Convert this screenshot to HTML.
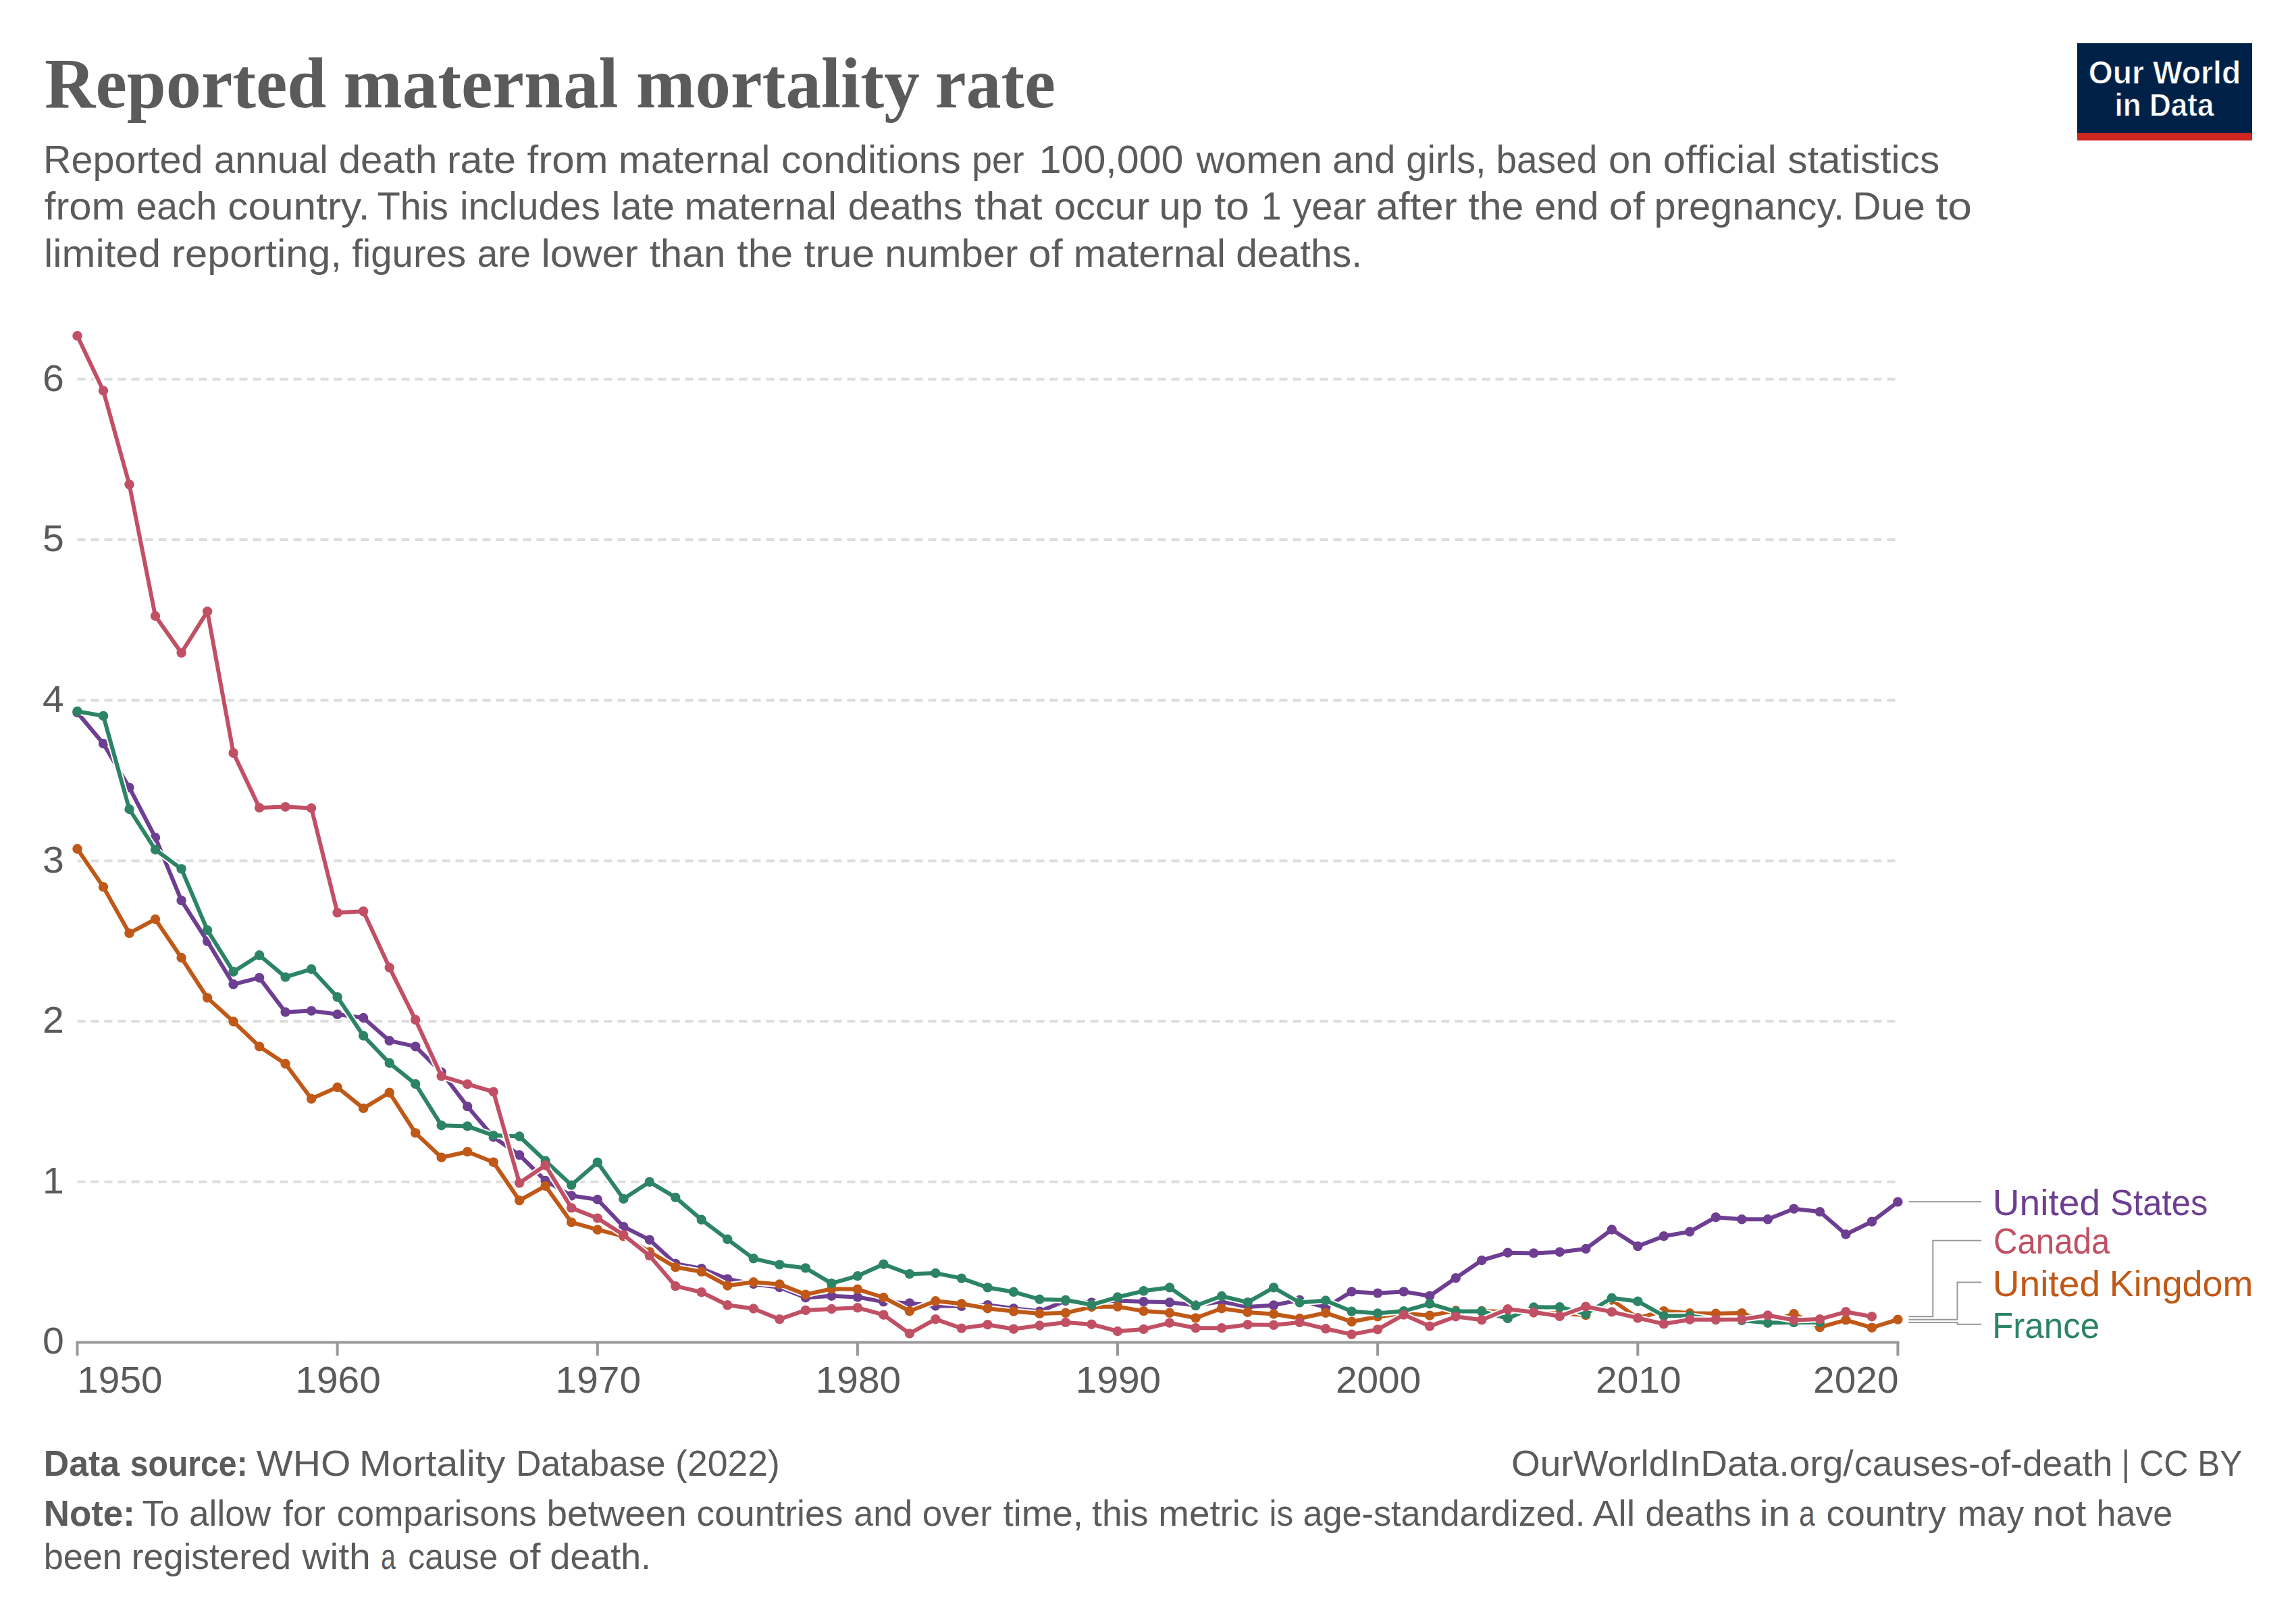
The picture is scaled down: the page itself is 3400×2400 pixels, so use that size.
<!DOCTYPE html>
<html lang="en"><head><meta charset="utf-8"><title>Reported maternal mortality rate</title>
<style>html,body{margin:0;padding:0;background:#fff}body{width:3400px;height:2400px}svg{display:block}text{font-family:"Liberation Sans",Arial,sans-serif;fill:#5b5b5b}.ttl{font-family:"Liberation Serif","Times New Roman",serif;font-weight:bold}.b{font-weight:bold}.lg{stroke:#002147;stroke-width:0.8px}</style></head><body>
<svg width="3400" height="2400" viewBox="0 0 3400 2400">
<rect width="3400" height="2400" fill="#fff"/>
<rect x="3076" y="64" width="259" height="144" fill="#002147"/>
<rect x="3076" y="197" width="259" height="11" fill="#CE261E"/>
<text x="3205.5" y="123.6" font-size="48.5" textLength="225.5" lengthAdjust="spacingAndGlyphs" class="b lg" fill="#fff" style="fill:#fff" text-anchor="middle">Our World</text>
<text x="3205.0" y="171.5" font-size="48.5" textLength="147.0" lengthAdjust="spacingAndGlyphs" class="b lg" fill="#fff" style="fill:#fff" text-anchor="middle">in Data</text>
<line x1="114.5" y1="1749.7" x2="2810.4" y2="1749.7" stroke="#ddd" stroke-width="4" stroke-dasharray="12,8"/>
<text x="94.8" y="1766.9" font-size="55.5" textLength="31.8" lengthAdjust="spacingAndGlyphs" text-anchor="end">1</text>
<line x1="114.5" y1="1512.1" x2="2810.4" y2="1512.1" stroke="#ddd" stroke-width="4" stroke-dasharray="12,8"/>
<text x="94.8" y="1529.3" font-size="55.5" textLength="31.8" lengthAdjust="spacingAndGlyphs" text-anchor="end">2</text>
<line x1="114.5" y1="1274.4" x2="2810.4" y2="1274.4" stroke="#ddd" stroke-width="4" stroke-dasharray="12,8"/>
<text x="94.8" y="1291.6" font-size="55.5" textLength="31.8" lengthAdjust="spacingAndGlyphs" text-anchor="end">3</text>
<line x1="114.5" y1="1036.7" x2="2810.4" y2="1036.7" stroke="#ddd" stroke-width="4" stroke-dasharray="12,8"/>
<text x="94.8" y="1053.9" font-size="55.5" textLength="31.8" lengthAdjust="spacingAndGlyphs" text-anchor="end">4</text>
<line x1="114.5" y1="799.1" x2="2810.4" y2="799.1" stroke="#ddd" stroke-width="4" stroke-dasharray="12,8"/>
<text x="94.8" y="816.3" font-size="55.5" textLength="31.8" lengthAdjust="spacingAndGlyphs" text-anchor="end">5</text>
<line x1="114.5" y1="561.4" x2="2810.4" y2="561.4" stroke="#ddd" stroke-width="4" stroke-dasharray="12,8"/>
<text x="94.8" y="578.6" font-size="55.5" textLength="31.8" lengthAdjust="spacingAndGlyphs" text-anchor="end">6</text>
<text x="94.8" y="2004.4" font-size="55.5" textLength="31.8" lengthAdjust="spacingAndGlyphs" text-anchor="end">0</text>
<g stroke="#999" stroke-width="4" fill="none">
<line x1="112.5" y1="1987.4" x2="2812.4" y2="1987.4"/>
<line x1="114.5" y1="1987.4" x2="114.5" y2="2007.3"/>
<line x1="499.6" y1="1987.4" x2="499.6" y2="2007.3"/>
<line x1="884.8" y1="1987.4" x2="884.8" y2="2007.3"/>
<line x1="1269.9" y1="1987.4" x2="1269.9" y2="2007.3"/>
<line x1="1655.0" y1="1987.4" x2="1655.0" y2="2007.3"/>
<line x1="2040.1" y1="1987.4" x2="2040.1" y2="2007.3"/>
<line x1="2425.3" y1="1987.4" x2="2425.3" y2="2007.3"/>
<line x1="2810.4" y1="1987.4" x2="2810.4" y2="2007.3"/>
</g>
<text x="500.6" y="2062.0" font-size="55.5" textLength="126.4" lengthAdjust="spacingAndGlyphs" text-anchor="middle">1960</text>
<text x="885.8" y="2062.0" font-size="55.5" textLength="126.4" lengthAdjust="spacingAndGlyphs" text-anchor="middle">1970</text>
<text x="1270.9" y="2062.0" font-size="55.5" textLength="126.4" lengthAdjust="spacingAndGlyphs" text-anchor="middle">1980</text>
<text x="1656.0" y="2062.0" font-size="55.5" textLength="126.4" lengthAdjust="spacingAndGlyphs" text-anchor="middle">1990</text>
<text x="2041.1" y="2062.0" font-size="55.5" textLength="126.4" lengthAdjust="spacingAndGlyphs" text-anchor="middle">2000</text>
<text x="2426.3" y="2062.0" font-size="55.5" textLength="126.4" lengthAdjust="spacingAndGlyphs" text-anchor="middle">2010</text>
<text x="114.2" y="2062.0" font-size="55.5" textLength="126.4" lengthAdjust="spacingAndGlyphs">1950</text>
<text x="2811.5" y="2062.0" font-size="55.5" textLength="126.4" lengthAdjust="spacingAndGlyphs" text-anchor="end">2020</text>
<g>
<polyline points="114.5,1055.0 153.0,1101.0 191.5,1166.0 230.0,1240.0 268.6,1333.1 307.1,1393.6 345.6,1457.3 384.1,1447.6 422.6,1498.5 461.1,1496.6 499.6,1501.8 538.1,1507.0 576.7,1540.9 615.2,1549.4 653.7,1587.5 692.2,1638.1 730.7,1683.5 769.2,1710.1 807.7,1748.0 846.2,1770.3 884.8,1776.0 923.3,1816.1 961.8,1835.6 1000.3,1870.9 1038.8,1878.2 1077.3,1893.6 1115.8,1901.0 1154.4,1906.0 1192.9,1921.2 1231.4,1918.7 1269.9,1920.5 1308.4,1927.3 1346.9,1929.4 1385.4,1933.5 1423.9,1933.8 1462.5,1932.2 1501.0,1937.3 1539.5,1941.6 1578.0,1926.0 1616.5,1928.4 1655.0,1925.6 1693.5,1927.2 1732.0,1928.3 1770.6,1932.4 1809.1,1927.0 1847.6,1935.0 1886.1,1932.4 1924.6,1924.8 1963.1,1935.7 2001.6,1912.4 2040.1,1914.6 2078.7,1912.4 2117.2,1918.7 2155.7,1892.2 2194.2,1866.0 2232.7,1854.7 2271.2,1855.4 2309.7,1853.7 2348.3,1849.0 2386.8,1820.5 2425.3,1845.1 2463.8,1830.2 2502.3,1823.6 2540.8,1802.2 2579.3,1805.3 2617.8,1805.3 2656.4,1789.7 2694.9,1794.1 2733.4,1827.5 2771.9,1808.7 2810.4,1779.5" fill="none" stroke="#fff" stroke-width="10" stroke-linejoin="round" stroke-linecap="butt"/>
<polyline points="114.5,1055.0 153.0,1101.0 191.5,1166.0 230.0,1240.0 268.6,1333.1 307.1,1393.6 345.6,1457.3 384.1,1447.6 422.6,1498.5 461.1,1496.6 499.6,1501.8 538.1,1507.0 576.7,1540.9 615.2,1549.4 653.7,1587.5 692.2,1638.1 730.7,1683.5 769.2,1710.1 807.7,1748.0 846.2,1770.3 884.8,1776.0 923.3,1816.1 961.8,1835.6 1000.3,1870.9 1038.8,1878.2 1077.3,1893.6 1115.8,1901.0 1154.4,1906.0 1192.9,1921.2 1231.4,1918.7 1269.9,1920.5 1308.4,1927.3 1346.9,1929.4 1385.4,1933.5 1423.9,1933.8 1462.5,1932.2 1501.0,1937.3 1539.5,1941.6 1578.0,1926.0 1616.5,1928.4 1655.0,1925.6 1693.5,1927.2 1732.0,1928.3 1770.6,1932.4 1809.1,1927.0 1847.6,1935.0 1886.1,1932.4 1924.6,1924.8 1963.1,1935.7 2001.6,1912.4 2040.1,1914.6 2078.7,1912.4 2117.2,1918.7 2155.7,1892.2 2194.2,1866.0 2232.7,1854.7 2271.2,1855.4 2309.7,1853.7 2348.3,1849.0 2386.8,1820.5 2425.3,1845.1 2463.8,1830.2 2502.3,1823.6 2540.8,1802.2 2579.3,1805.3 2617.8,1805.3 2656.4,1789.7 2694.9,1794.1 2733.4,1827.5 2771.9,1808.7 2810.4,1779.5" fill="none" stroke="#6D3E91" stroke-width="6" stroke-linejoin="round" stroke-linecap="butt"/>
<g fill="#6D3E91">
<circle cx="114.5" cy="1055.0" r="7.2"/>
<circle cx="153.0" cy="1101.0" r="7.2"/>
<circle cx="191.5" cy="1166.0" r="7.2"/>
<circle cx="230.0" cy="1240.0" r="7.2"/>
<circle cx="268.6" cy="1333.1" r="7.2"/>
<circle cx="307.1" cy="1393.6" r="7.2"/>
<circle cx="345.6" cy="1457.3" r="7.2"/>
<circle cx="384.1" cy="1447.6" r="7.2"/>
<circle cx="422.6" cy="1498.5" r="7.2"/>
<circle cx="461.1" cy="1496.6" r="7.2"/>
<circle cx="499.6" cy="1501.8" r="7.2"/>
<circle cx="538.1" cy="1507.0" r="7.2"/>
<circle cx="576.7" cy="1540.9" r="7.2"/>
<circle cx="615.2" cy="1549.4" r="7.2"/>
<circle cx="653.7" cy="1587.5" r="7.2"/>
<circle cx="692.2" cy="1638.1" r="7.2"/>
<circle cx="730.7" cy="1683.5" r="7.2"/>
<circle cx="769.2" cy="1710.1" r="7.2"/>
<circle cx="807.7" cy="1748.0" r="7.2"/>
<circle cx="846.2" cy="1770.3" r="7.2"/>
<circle cx="884.8" cy="1776.0" r="7.2"/>
<circle cx="923.3" cy="1816.1" r="7.2"/>
<circle cx="961.8" cy="1835.6" r="7.2"/>
<circle cx="1000.3" cy="1870.9" r="7.2"/>
<circle cx="1038.8" cy="1878.2" r="7.2"/>
<circle cx="1077.3" cy="1893.6" r="7.2"/>
<circle cx="1115.8" cy="1901.0" r="7.2"/>
<circle cx="1154.4" cy="1906.0" r="7.2"/>
<circle cx="1192.9" cy="1921.2" r="7.2"/>
<circle cx="1231.4" cy="1918.7" r="7.2"/>
<circle cx="1269.9" cy="1920.5" r="7.2"/>
<circle cx="1308.4" cy="1927.3" r="7.2"/>
<circle cx="1346.9" cy="1929.4" r="7.2"/>
<circle cx="1385.4" cy="1933.5" r="7.2"/>
<circle cx="1423.9" cy="1933.8" r="7.2"/>
<circle cx="1462.5" cy="1932.2" r="7.2"/>
<circle cx="1501.0" cy="1937.3" r="7.2"/>
<circle cx="1539.5" cy="1941.6" r="7.2"/>
<circle cx="1578.0" cy="1926.0" r="7.2"/>
<circle cx="1616.5" cy="1928.4" r="7.2"/>
<circle cx="1655.0" cy="1925.6" r="7.2"/>
<circle cx="1693.5" cy="1927.2" r="7.2"/>
<circle cx="1732.0" cy="1928.3" r="7.2"/>
<circle cx="1770.6" cy="1932.4" r="7.2"/>
<circle cx="1809.1" cy="1927.0" r="7.2"/>
<circle cx="1847.6" cy="1935.0" r="7.2"/>
<circle cx="1886.1" cy="1932.4" r="7.2"/>
<circle cx="1924.6" cy="1924.8" r="7.2"/>
<circle cx="1963.1" cy="1935.7" r="7.2"/>
<circle cx="2001.6" cy="1912.4" r="7.2"/>
<circle cx="2040.1" cy="1914.6" r="7.2"/>
<circle cx="2078.7" cy="1912.4" r="7.2"/>
<circle cx="2117.2" cy="1918.7" r="7.2"/>
<circle cx="2155.7" cy="1892.2" r="7.2"/>
<circle cx="2194.2" cy="1866.0" r="7.2"/>
<circle cx="2232.7" cy="1854.7" r="7.2"/>
<circle cx="2271.2" cy="1855.4" r="7.2"/>
<circle cx="2309.7" cy="1853.7" r="7.2"/>
<circle cx="2348.3" cy="1849.0" r="7.2"/>
<circle cx="2386.8" cy="1820.5" r="7.2"/>
<circle cx="2425.3" cy="1845.1" r="7.2"/>
<circle cx="2463.8" cy="1830.2" r="7.2"/>
<circle cx="2502.3" cy="1823.6" r="7.2"/>
<circle cx="2540.8" cy="1802.2" r="7.2"/>
<circle cx="2579.3" cy="1805.3" r="7.2"/>
<circle cx="2617.8" cy="1805.3" r="7.2"/>
<circle cx="2656.4" cy="1789.7" r="7.2"/>
<circle cx="2694.9" cy="1794.1" r="7.2"/>
<circle cx="2733.4" cy="1827.5" r="7.2"/>
<circle cx="2771.9" cy="1808.7" r="7.2"/>
<circle cx="2810.4" cy="1779.5" r="7.2"/>
</g></g>
<g>
<polyline points="114.5,1256.8 153.0,1313.1 191.5,1381.7 230.0,1361.0 268.6,1418.0 307.1,1477.4 345.6,1512.5 384.1,1549.4 422.6,1575.0 461.1,1626.8 499.6,1609.8 538.1,1640.9 576.7,1617.7 615.2,1677.4 653.7,1713.7 692.2,1705.2 730.7,1720.7 769.2,1777.3 807.7,1755.9 846.2,1809.7 884.8,1820.7 923.3,1830.4 961.8,1853.4 1000.3,1876.1 1038.8,1882.9 1077.3,1903.5 1115.8,1898.3 1154.4,1901.4 1192.9,1916.6 1231.4,1908.2 1269.9,1908.8 1308.4,1921.0 1346.9,1941.2 1385.4,1926.3 1423.9,1930.3 1462.5,1937.2 1501.0,1941.6 1539.5,1944.9 1578.0,1943.8 1616.5,1935.0 1655.0,1934.6 1693.5,1941.1 1732.0,1943.8 1770.6,1951.4 1809.1,1937.2 1847.6,1942.9 1886.1,1945.5 1924.6,1952.0 1963.1,1943.8 2001.6,1956.8 2040.1,1949.4 2078.7,1944.4 2117.2,1947.7 2155.7,1940.4 2194.2,1941.0 2232.7,1942.2 2271.2,1943.5 2309.7,1944.8 2348.3,1947.1 2386.8,1924.6 2425.3,1951.4 2463.8,1941.1 2502.3,1944.3 2540.8,1944.8 2579.3,1944.1 2617.8,1958.5 2656.4,1945.1 2694.9,1965.1 2733.4,1954.4 2771.9,1965.7 2810.4,1953.6" fill="none" stroke="#fff" stroke-width="10" stroke-linejoin="round" stroke-linecap="butt"/>
<polyline points="114.5,1256.8 153.0,1313.1 191.5,1381.7 230.0,1361.0 268.6,1418.0 307.1,1477.4 345.6,1512.5 384.1,1549.4 422.6,1575.0 461.1,1626.8 499.6,1609.8 538.1,1640.9 576.7,1617.7 615.2,1677.4 653.7,1713.7 692.2,1705.2 730.7,1720.7 769.2,1777.3 807.7,1755.9 846.2,1809.7 884.8,1820.7 923.3,1830.4 961.8,1853.4 1000.3,1876.1 1038.8,1882.9 1077.3,1903.5 1115.8,1898.3 1154.4,1901.4 1192.9,1916.6 1231.4,1908.2 1269.9,1908.8 1308.4,1921.0 1346.9,1941.2 1385.4,1926.3 1423.9,1930.3 1462.5,1937.2 1501.0,1941.6 1539.5,1944.9 1578.0,1943.8 1616.5,1935.0 1655.0,1934.6 1693.5,1941.1 1732.0,1943.8 1770.6,1951.4 1809.1,1937.2 1847.6,1942.9 1886.1,1945.5 1924.6,1952.0 1963.1,1943.8 2001.6,1956.8 2040.1,1949.4 2078.7,1944.4 2117.2,1947.7 2155.7,1940.4 2194.2,1941.0 2232.7,1942.2 2271.2,1943.5 2309.7,1944.8 2348.3,1947.1 2386.8,1924.6 2425.3,1951.4 2463.8,1941.1 2502.3,1944.3 2540.8,1944.8 2579.3,1944.1 2617.8,1958.5 2656.4,1945.1 2694.9,1965.1 2733.4,1954.4 2771.9,1965.7 2810.4,1953.6" fill="none" stroke="#C05917" stroke-width="6" stroke-linejoin="round" stroke-linecap="butt"/>
<g fill="#C05917">
<circle cx="114.5" cy="1256.8" r="7.2"/>
<circle cx="153.0" cy="1313.1" r="7.2"/>
<circle cx="191.5" cy="1381.7" r="7.2"/>
<circle cx="230.0" cy="1361.0" r="7.2"/>
<circle cx="268.6" cy="1418.0" r="7.2"/>
<circle cx="307.1" cy="1477.4" r="7.2"/>
<circle cx="345.6" cy="1512.5" r="7.2"/>
<circle cx="384.1" cy="1549.4" r="7.2"/>
<circle cx="422.6" cy="1575.0" r="7.2"/>
<circle cx="461.1" cy="1626.8" r="7.2"/>
<circle cx="499.6" cy="1609.8" r="7.2"/>
<circle cx="538.1" cy="1640.9" r="7.2"/>
<circle cx="576.7" cy="1617.7" r="7.2"/>
<circle cx="615.2" cy="1677.4" r="7.2"/>
<circle cx="653.7" cy="1713.7" r="7.2"/>
<circle cx="692.2" cy="1705.2" r="7.2"/>
<circle cx="730.7" cy="1720.7" r="7.2"/>
<circle cx="769.2" cy="1777.3" r="7.2"/>
<circle cx="807.7" cy="1755.9" r="7.2"/>
<circle cx="846.2" cy="1809.7" r="7.2"/>
<circle cx="884.8" cy="1820.7" r="7.2"/>
<circle cx="923.3" cy="1830.4" r="7.2"/>
<circle cx="961.8" cy="1853.4" r="7.2"/>
<circle cx="1000.3" cy="1876.1" r="7.2"/>
<circle cx="1038.8" cy="1882.9" r="7.2"/>
<circle cx="1077.3" cy="1903.5" r="7.2"/>
<circle cx="1115.8" cy="1898.3" r="7.2"/>
<circle cx="1154.4" cy="1901.4" r="7.2"/>
<circle cx="1192.9" cy="1916.6" r="7.2"/>
<circle cx="1231.4" cy="1908.2" r="7.2"/>
<circle cx="1269.9" cy="1908.8" r="7.2"/>
<circle cx="1308.4" cy="1921.0" r="7.2"/>
<circle cx="1346.9" cy="1941.2" r="7.2"/>
<circle cx="1385.4" cy="1926.3" r="7.2"/>
<circle cx="1423.9" cy="1930.3" r="7.2"/>
<circle cx="1462.5" cy="1937.2" r="7.2"/>
<circle cx="1501.0" cy="1941.6" r="7.2"/>
<circle cx="1539.5" cy="1944.9" r="7.2"/>
<circle cx="1578.0" cy="1943.8" r="7.2"/>
<circle cx="1616.5" cy="1935.0" r="7.2"/>
<circle cx="1655.0" cy="1934.6" r="7.2"/>
<circle cx="1693.5" cy="1941.1" r="7.2"/>
<circle cx="1732.0" cy="1943.8" r="7.2"/>
<circle cx="1770.6" cy="1951.4" r="7.2"/>
<circle cx="1809.1" cy="1937.2" r="7.2"/>
<circle cx="1847.6" cy="1942.9" r="7.2"/>
<circle cx="1886.1" cy="1945.5" r="7.2"/>
<circle cx="1924.6" cy="1952.0" r="7.2"/>
<circle cx="1963.1" cy="1943.8" r="7.2"/>
<circle cx="2001.6" cy="1956.8" r="7.2"/>
<circle cx="2040.1" cy="1949.4" r="7.2"/>
<circle cx="2078.7" cy="1944.4" r="7.2"/>
<circle cx="2117.2" cy="1947.7" r="7.2"/>
<circle cx="2155.7" cy="1940.4" r="7.2"/>
<circle cx="2194.2" cy="1941.0" r="7.2"/>
<circle cx="2232.7" cy="1942.2" r="7.2"/>
<circle cx="2271.2" cy="1943.5" r="7.2"/>
<circle cx="2309.7" cy="1944.8" r="7.2"/>
<circle cx="2348.3" cy="1947.1" r="7.2"/>
<circle cx="2386.8" cy="1924.6" r="7.2"/>
<circle cx="2425.3" cy="1951.4" r="7.2"/>
<circle cx="2463.8" cy="1941.1" r="7.2"/>
<circle cx="2502.3" cy="1944.3" r="7.2"/>
<circle cx="2540.8" cy="1944.8" r="7.2"/>
<circle cx="2579.3" cy="1944.1" r="7.2"/>
<circle cx="2617.8" cy="1958.5" r="7.2"/>
<circle cx="2656.4" cy="1945.1" r="7.2"/>
<circle cx="2694.9" cy="1965.1" r="7.2"/>
<circle cx="2733.4" cy="1954.4" r="7.2"/>
<circle cx="2771.9" cy="1965.7" r="7.2"/>
<circle cx="2810.4" cy="1953.6" r="7.2"/>
</g></g>
<g>
<polyline points="114.5,1053.2 153.0,1059.9 191.5,1198.0 230.0,1258.0 268.6,1286.4 307.1,1377.1 345.6,1438.7 384.1,1414.3 422.6,1446.6 461.1,1434.8 499.6,1476.2 538.1,1533.5 576.7,1573.8 615.2,1604.9 653.7,1666.2 692.2,1667.4 730.7,1681.1 769.2,1682.5 807.7,1718.8 846.2,1754.6 884.8,1720.9 923.3,1775.0 961.8,1749.9 1000.3,1772.9 1038.8,1805.8 1077.3,1834.8 1115.8,1863.3 1154.4,1872.4 1192.9,1877.4 1231.4,1900.1 1269.9,1889.2 1308.4,1871.7 1346.9,1886.2 1385.4,1885.0 1423.9,1892.6 1462.5,1906.3 1501.0,1912.8 1539.5,1923.7 1578.0,1924.8 1616.5,1931.8 1655.0,1920.5 1693.5,1911.3 1732.0,1906.3 1770.6,1933.1 1809.1,1919.0 1847.6,1928.1 1886.1,1906.3 1924.6,1928.5 1963.1,1925.5 2001.6,1941.6 2040.1,1944.4 2078.7,1941.1 2117.2,1930.3 2155.7,1941.6 2194.2,1941.6 2232.7,1952.0 2271.2,1935.5 2309.7,1935.2 2348.3,1945.3 2386.8,1921.8 2425.3,1926.7 2463.8,1948.2 2502.3,1947.9 2540.8,1954.0 2579.3,1954.9 2617.8,1958.6 2656.4,1958.0 2694.9,1958.0" fill="none" stroke="#fff" stroke-width="10" stroke-linejoin="round" stroke-linecap="butt"/>
<polyline points="114.5,1053.2 153.0,1059.9 191.5,1198.0 230.0,1258.0 268.6,1286.4 307.1,1377.1 345.6,1438.7 384.1,1414.3 422.6,1446.6 461.1,1434.8 499.6,1476.2 538.1,1533.5 576.7,1573.8 615.2,1604.9 653.7,1666.2 692.2,1667.4 730.7,1681.1 769.2,1682.5 807.7,1718.8 846.2,1754.6 884.8,1720.9 923.3,1775.0 961.8,1749.9 1000.3,1772.9 1038.8,1805.8 1077.3,1834.8 1115.8,1863.3 1154.4,1872.4 1192.9,1877.4 1231.4,1900.1 1269.9,1889.2 1308.4,1871.7 1346.9,1886.2 1385.4,1885.0 1423.9,1892.6 1462.5,1906.3 1501.0,1912.8 1539.5,1923.7 1578.0,1924.8 1616.5,1931.8 1655.0,1920.5 1693.5,1911.3 1732.0,1906.3 1770.6,1933.1 1809.1,1919.0 1847.6,1928.1 1886.1,1906.3 1924.6,1928.5 1963.1,1925.5 2001.6,1941.6 2040.1,1944.4 2078.7,1941.1 2117.2,1930.3 2155.7,1941.6 2194.2,1941.6 2232.7,1952.0 2271.2,1935.5 2309.7,1935.2 2348.3,1945.3 2386.8,1921.8 2425.3,1926.7 2463.8,1948.2 2502.3,1947.9 2540.8,1954.0 2579.3,1954.9 2617.8,1958.6 2656.4,1958.0 2694.9,1958.0" fill="none" stroke="#2C8465" stroke-width="6" stroke-linejoin="round" stroke-linecap="butt"/>
<g fill="#2C8465">
<circle cx="114.5" cy="1053.2" r="7.2"/>
<circle cx="153.0" cy="1059.9" r="7.2"/>
<circle cx="191.5" cy="1198.0" r="7.2"/>
<circle cx="230.0" cy="1258.0" r="7.2"/>
<circle cx="268.6" cy="1286.4" r="7.2"/>
<circle cx="307.1" cy="1377.1" r="7.2"/>
<circle cx="345.6" cy="1438.7" r="7.2"/>
<circle cx="384.1" cy="1414.3" r="7.2"/>
<circle cx="422.6" cy="1446.6" r="7.2"/>
<circle cx="461.1" cy="1434.8" r="7.2"/>
<circle cx="499.6" cy="1476.2" r="7.2"/>
<circle cx="538.1" cy="1533.5" r="7.2"/>
<circle cx="576.7" cy="1573.8" r="7.2"/>
<circle cx="615.2" cy="1604.9" r="7.2"/>
<circle cx="653.7" cy="1666.2" r="7.2"/>
<circle cx="692.2" cy="1667.4" r="7.2"/>
<circle cx="730.7" cy="1681.1" r="7.2"/>
<circle cx="769.2" cy="1682.5" r="7.2"/>
<circle cx="807.7" cy="1718.8" r="7.2"/>
<circle cx="846.2" cy="1754.6" r="7.2"/>
<circle cx="884.8" cy="1720.9" r="7.2"/>
<circle cx="923.3" cy="1775.0" r="7.2"/>
<circle cx="961.8" cy="1749.9" r="7.2"/>
<circle cx="1000.3" cy="1772.9" r="7.2"/>
<circle cx="1038.8" cy="1805.8" r="7.2"/>
<circle cx="1077.3" cy="1834.8" r="7.2"/>
<circle cx="1115.8" cy="1863.3" r="7.2"/>
<circle cx="1154.4" cy="1872.4" r="7.2"/>
<circle cx="1192.9" cy="1877.4" r="7.2"/>
<circle cx="1231.4" cy="1900.1" r="7.2"/>
<circle cx="1269.9" cy="1889.2" r="7.2"/>
<circle cx="1308.4" cy="1871.7" r="7.2"/>
<circle cx="1346.9" cy="1886.2" r="7.2"/>
<circle cx="1385.4" cy="1885.0" r="7.2"/>
<circle cx="1423.9" cy="1892.6" r="7.2"/>
<circle cx="1462.5" cy="1906.3" r="7.2"/>
<circle cx="1501.0" cy="1912.8" r="7.2"/>
<circle cx="1539.5" cy="1923.7" r="7.2"/>
<circle cx="1578.0" cy="1924.8" r="7.2"/>
<circle cx="1616.5" cy="1931.8" r="7.2"/>
<circle cx="1655.0" cy="1920.5" r="7.2"/>
<circle cx="1693.5" cy="1911.3" r="7.2"/>
<circle cx="1732.0" cy="1906.3" r="7.2"/>
<circle cx="1770.6" cy="1933.1" r="7.2"/>
<circle cx="1809.1" cy="1919.0" r="7.2"/>
<circle cx="1847.6" cy="1928.1" r="7.2"/>
<circle cx="1886.1" cy="1906.3" r="7.2"/>
<circle cx="1924.6" cy="1928.5" r="7.2"/>
<circle cx="1963.1" cy="1925.5" r="7.2"/>
<circle cx="2001.6" cy="1941.6" r="7.2"/>
<circle cx="2040.1" cy="1944.4" r="7.2"/>
<circle cx="2078.7" cy="1941.1" r="7.2"/>
<circle cx="2117.2" cy="1930.3" r="7.2"/>
<circle cx="2155.7" cy="1941.6" r="7.2"/>
<circle cx="2194.2" cy="1941.6" r="7.2"/>
<circle cx="2232.7" cy="1952.0" r="7.2"/>
<circle cx="2271.2" cy="1935.5" r="7.2"/>
<circle cx="2309.7" cy="1935.2" r="7.2"/>
<circle cx="2348.3" cy="1945.3" r="7.2"/>
<circle cx="2386.8" cy="1921.8" r="7.2"/>
<circle cx="2425.3" cy="1926.7" r="7.2"/>
<circle cx="2463.8" cy="1948.2" r="7.2"/>
<circle cx="2502.3" cy="1947.9" r="7.2"/>
<circle cx="2540.8" cy="1954.0" r="7.2"/>
<circle cx="2579.3" cy="1954.9" r="7.2"/>
<circle cx="2617.8" cy="1958.6" r="7.2"/>
<circle cx="2656.4" cy="1958.0" r="7.2"/>
<circle cx="2694.9" cy="1958.0" r="7.2"/>
</g></g>
<g>
<polyline points="114.5,497.2 153.0,578.5 191.5,717.3 230.0,912.0 268.6,966.6 307.1,905.3 345.6,1114.8 384.1,1195.9 422.6,1194.6 461.1,1196.5 499.6,1351.3 538.1,1349.2 576.7,1432.6 615.2,1509.8 653.7,1593.3 692.2,1605.2 730.7,1616.5 769.2,1751.6 807.7,1725.3 846.2,1788.4 884.8,1803.6 923.3,1828.3 961.8,1859.1 1000.3,1904.1 1038.8,1913.2 1077.3,1932.3 1115.8,1937.5 1154.4,1953.2 1192.9,1939.9 1231.4,1938.0 1269.9,1936.2 1308.4,1946.7 1346.9,1974.4 1385.4,1953.1 1423.9,1966.6 1462.5,1961.2 1501.0,1967.7 1539.5,1962.5 1578.0,1957.9 1616.5,1960.7 1655.0,1971.0 1693.5,1967.9 1732.0,1958.6 1770.6,1966.2 1809.1,1966.2 1847.6,1961.2 1886.1,1961.8 1924.6,1957.9 1963.1,1967.3 2001.6,1975.6 2040.1,1968.4 2078.7,1946.6 2117.2,1963.6 2155.7,1949.2 2194.2,1954.2 2232.7,1938.3 2271.2,1942.7 2309.7,1948.8 2348.3,1934.5 2386.8,1942.4 2425.3,1951.4 2463.8,1960.1 2502.3,1953.7 2540.8,1953.7 2579.3,1953.4 2617.8,1947.5 2656.4,1954.5 2694.9,1953.1 2733.4,1942.3 2771.9,1949.2" fill="none" stroke="#fff" stroke-width="10" stroke-linejoin="round" stroke-linecap="butt"/>
<polyline points="114.5,497.2 153.0,578.5 191.5,717.3 230.0,912.0 268.6,966.6 307.1,905.3 345.6,1114.8 384.1,1195.9 422.6,1194.6 461.1,1196.5 499.6,1351.3 538.1,1349.2 576.7,1432.6 615.2,1509.8 653.7,1593.3 692.2,1605.2 730.7,1616.5 769.2,1751.6 807.7,1725.3 846.2,1788.4 884.8,1803.6 923.3,1828.3 961.8,1859.1 1000.3,1904.1 1038.8,1913.2 1077.3,1932.3 1115.8,1937.5 1154.4,1953.2 1192.9,1939.9 1231.4,1938.0 1269.9,1936.2 1308.4,1946.7 1346.9,1974.4 1385.4,1953.1 1423.9,1966.6 1462.5,1961.2 1501.0,1967.7 1539.5,1962.5 1578.0,1957.9 1616.5,1960.7 1655.0,1971.0 1693.5,1967.9 1732.0,1958.6 1770.6,1966.2 1809.1,1966.2 1847.6,1961.2 1886.1,1961.8 1924.6,1957.9 1963.1,1967.3 2001.6,1975.6 2040.1,1968.4 2078.7,1946.6 2117.2,1963.6 2155.7,1949.2 2194.2,1954.2 2232.7,1938.3 2271.2,1942.7 2309.7,1948.8 2348.3,1934.5 2386.8,1942.4 2425.3,1951.4 2463.8,1960.1 2502.3,1953.7 2540.8,1953.7 2579.3,1953.4 2617.8,1947.5 2656.4,1954.5 2694.9,1953.1 2733.4,1942.3 2771.9,1949.2" fill="none" stroke="#C15065" stroke-width="6" stroke-linejoin="round" stroke-linecap="butt"/>
<g fill="#C15065">
<circle cx="114.5" cy="497.2" r="7.2"/>
<circle cx="153.0" cy="578.5" r="7.2"/>
<circle cx="191.5" cy="717.3" r="7.2"/>
<circle cx="230.0" cy="912.0" r="7.2"/>
<circle cx="268.6" cy="966.6" r="7.2"/>
<circle cx="307.1" cy="905.3" r="7.2"/>
<circle cx="345.6" cy="1114.8" r="7.2"/>
<circle cx="384.1" cy="1195.9" r="7.2"/>
<circle cx="422.6" cy="1194.6" r="7.2"/>
<circle cx="461.1" cy="1196.5" r="7.2"/>
<circle cx="499.6" cy="1351.3" r="7.2"/>
<circle cx="538.1" cy="1349.2" r="7.2"/>
<circle cx="576.7" cy="1432.6" r="7.2"/>
<circle cx="615.2" cy="1509.8" r="7.2"/>
<circle cx="653.7" cy="1593.3" r="7.2"/>
<circle cx="692.2" cy="1605.2" r="7.2"/>
<circle cx="730.7" cy="1616.5" r="7.2"/>
<circle cx="769.2" cy="1751.6" r="7.2"/>
<circle cx="807.7" cy="1725.3" r="7.2"/>
<circle cx="846.2" cy="1788.4" r="7.2"/>
<circle cx="884.8" cy="1803.6" r="7.2"/>
<circle cx="923.3" cy="1828.3" r="7.2"/>
<circle cx="961.8" cy="1859.1" r="7.2"/>
<circle cx="1000.3" cy="1904.1" r="7.2"/>
<circle cx="1038.8" cy="1913.2" r="7.2"/>
<circle cx="1077.3" cy="1932.3" r="7.2"/>
<circle cx="1115.8" cy="1937.5" r="7.2"/>
<circle cx="1154.4" cy="1953.2" r="7.2"/>
<circle cx="1192.9" cy="1939.9" r="7.2"/>
<circle cx="1231.4" cy="1938.0" r="7.2"/>
<circle cx="1269.9" cy="1936.2" r="7.2"/>
<circle cx="1308.4" cy="1946.7" r="7.2"/>
<circle cx="1346.9" cy="1974.4" r="7.2"/>
<circle cx="1385.4" cy="1953.1" r="7.2"/>
<circle cx="1423.9" cy="1966.6" r="7.2"/>
<circle cx="1462.5" cy="1961.2" r="7.2"/>
<circle cx="1501.0" cy="1967.7" r="7.2"/>
<circle cx="1539.5" cy="1962.5" r="7.2"/>
<circle cx="1578.0" cy="1957.9" r="7.2"/>
<circle cx="1616.5" cy="1960.7" r="7.2"/>
<circle cx="1655.0" cy="1971.0" r="7.2"/>
<circle cx="1693.5" cy="1967.9" r="7.2"/>
<circle cx="1732.0" cy="1958.6" r="7.2"/>
<circle cx="1770.6" cy="1966.2" r="7.2"/>
<circle cx="1809.1" cy="1966.2" r="7.2"/>
<circle cx="1847.6" cy="1961.2" r="7.2"/>
<circle cx="1886.1" cy="1961.8" r="7.2"/>
<circle cx="1924.6" cy="1957.9" r="7.2"/>
<circle cx="1963.1" cy="1967.3" r="7.2"/>
<circle cx="2001.6" cy="1975.6" r="7.2"/>
<circle cx="2040.1" cy="1968.4" r="7.2"/>
<circle cx="2078.7" cy="1946.6" r="7.2"/>
<circle cx="2117.2" cy="1963.6" r="7.2"/>
<circle cx="2155.7" cy="1949.2" r="7.2"/>
<circle cx="2194.2" cy="1954.2" r="7.2"/>
<circle cx="2232.7" cy="1938.3" r="7.2"/>
<circle cx="2271.2" cy="1942.7" r="7.2"/>
<circle cx="2309.7" cy="1948.8" r="7.2"/>
<circle cx="2348.3" cy="1934.5" r="7.2"/>
<circle cx="2386.8" cy="1942.4" r="7.2"/>
<circle cx="2425.3" cy="1951.4" r="7.2"/>
<circle cx="2463.8" cy="1960.1" r="7.2"/>
<circle cx="2502.3" cy="1953.7" r="7.2"/>
<circle cx="2540.8" cy="1953.7" r="7.2"/>
<circle cx="2579.3" cy="1953.4" r="7.2"/>
<circle cx="2617.8" cy="1947.5" r="7.2"/>
<circle cx="2656.4" cy="1954.5" r="7.2"/>
<circle cx="2694.9" cy="1953.1" r="7.2"/>
<circle cx="2733.4" cy="1942.3" r="7.2"/>
<circle cx="2771.9" cy="1949.2" r="7.2"/>
</g></g>
<g stroke="#999" stroke-width="2" fill="none">
<polyline points="2826.5,1779.3 2934.3,1779.3"/>
<polyline points="2826.5,1949.3 2862.3,1949.3 2862.3,1836.7 2934.3,1836.7"/>
<polyline points="2826.5,1953.7 2898.5,1953.7 2898.5,1898.4 2934.3,1898.4"/>
<polyline points="2826.5,1958.0 2898.5,1958.0 2898.5,1960.8 2934.3,1960.8"/>
</g>
<text y="159.0" font-size="106" class="ttl"><tspan x="66.1" textLength="417.2" lengthAdjust="spacingAndGlyphs">Reported</tspan> <tspan x="508.6" textLength="407.0" lengthAdjust="spacingAndGlyphs">maternal</tspan> <tspan x="942.0" textLength="419.7" lengthAdjust="spacingAndGlyphs">mortality</tspan> <tspan x="1384.8" textLength="178.1" lengthAdjust="spacingAndGlyphs">rate</tspan></text>
<text y="255.7" font-size="57.5"><tspan x="64.1" textLength="236.4" lengthAdjust="spacingAndGlyphs">Reported</tspan> <tspan x="316.9" textLength="168.8" lengthAdjust="spacingAndGlyphs">annual</tspan> <tspan x="501.7" textLength="145.6" lengthAdjust="spacingAndGlyphs">death</tspan> <tspan x="661.9" textLength="102.0" lengthAdjust="spacingAndGlyphs">rate</tspan> <tspan x="780.6" textLength="119.9" lengthAdjust="spacingAndGlyphs">from</tspan> <tspan x="916.0" textLength="224.3" lengthAdjust="spacingAndGlyphs">maternal</tspan> <tspan x="1157.0" textLength="265.8" lengthAdjust="spacingAndGlyphs">conditions</tspan> <tspan x="1439.3" textLength="77.3" lengthAdjust="spacingAndGlyphs">per</tspan> <tspan x="1538.7" textLength="213.8" lengthAdjust="spacingAndGlyphs">100,000</tspan> <tspan x="1771.5" textLength="186.5" lengthAdjust="spacingAndGlyphs">women</tspan> <tspan x="1973.2" textLength="93.2" lengthAdjust="spacingAndGlyphs">and</tspan> <tspan x="2082.3" textLength="118.3" lengthAdjust="spacingAndGlyphs">girls,</tspan> <tspan x="2215.4" textLength="150.0" lengthAdjust="spacingAndGlyphs">based</tspan> <tspan x="2382.1" textLength="64.6" lengthAdjust="spacingAndGlyphs">on</tspan> <tspan x="2462.7" textLength="168.1" lengthAdjust="spacingAndGlyphs">official</tspan> <tspan x="2647.3" textLength="225.0" lengthAdjust="spacingAndGlyphs">statistics</tspan></text>
<text y="325.2" font-size="57.5"><tspan x="65.8" textLength="119.6" lengthAdjust="spacingAndGlyphs">from</tspan> <tspan x="201.5" textLength="119.8" lengthAdjust="spacingAndGlyphs">each</tspan> <tspan x="337.2" textLength="210.3" lengthAdjust="spacingAndGlyphs">country.</tspan> <tspan x="558.7" textLength="105.2" lengthAdjust="spacingAndGlyphs">This</tspan> <tspan x="680.9" textLength="207.9" lengthAdjust="spacingAndGlyphs">includes</tspan> <tspan x="905.6" textLength="93.5" lengthAdjust="spacingAndGlyphs">late</tspan> <tspan x="1013.5" textLength="225.3" lengthAdjust="spacingAndGlyphs">maternal</tspan> <tspan x="1255.8" textLength="169.4" lengthAdjust="spacingAndGlyphs">deaths</tspan> <tspan x="1443.1" textLength="100.4" lengthAdjust="spacingAndGlyphs">that</tspan> <tspan x="1561.0" textLength="141.1" lengthAdjust="spacingAndGlyphs">occur</tspan> <tspan x="1716.6" textLength="64.1" lengthAdjust="spacingAndGlyphs">up</tspan> <tspan x="1798.0" textLength="52.1" lengthAdjust="spacingAndGlyphs">to</tspan> <tspan x="1867.8" textLength="29.8" lengthAdjust="spacingAndGlyphs">1</tspan> <tspan x="1914.3" textLength="108.7" lengthAdjust="spacingAndGlyphs">year</tspan> <tspan x="2037.8" textLength="119.8" lengthAdjust="spacingAndGlyphs">after</tspan> <tspan x="2174.3" textLength="82.1" lengthAdjust="spacingAndGlyphs">the</tspan> <tspan x="2272.4" textLength="95.1" lengthAdjust="spacingAndGlyphs">end</tspan> <tspan x="2382.6" textLength="53.1" lengthAdjust="spacingAndGlyphs">of</tspan> <tspan x="2449.6" textLength="281.5" lengthAdjust="spacingAndGlyphs">pregnancy.</tspan> <tspan x="2743.2" textLength="107.6" lengthAdjust="spacingAndGlyphs">Due</tspan> <tspan x="2866.4" textLength="53.5" lengthAdjust="spacingAndGlyphs">to</tspan></text>
<text y="394.8" font-size="57.5"><tspan x="64.9" textLength="173.1" lengthAdjust="spacingAndGlyphs">limited</tspan> <tspan x="254.1" textLength="252.0" lengthAdjust="spacingAndGlyphs">reporting,</tspan> <tspan x="521.2" textLength="168.9" lengthAdjust="spacingAndGlyphs">figures</tspan> <tspan x="706.8" textLength="79.1" lengthAdjust="spacingAndGlyphs">are</tspan> <tspan x="801.5" textLength="143.2" lengthAdjust="spacingAndGlyphs">lower</tspan> <tspan x="962.0" textLength="112.4" lengthAdjust="spacingAndGlyphs">than</tspan> <tspan x="1091.3" textLength="82.7" lengthAdjust="spacingAndGlyphs">the</tspan> <tspan x="1190.5" textLength="104.9" lengthAdjust="spacingAndGlyphs">true</tspan> <tspan x="1310.2" textLength="197.3" lengthAdjust="spacingAndGlyphs">number</tspan> <tspan x="1522.8" textLength="50.8" lengthAdjust="spacingAndGlyphs">of</tspan> <tspan x="1589.8" textLength="225.1" lengthAdjust="spacingAndGlyphs">maternal</tspan> <tspan x="1830.2" textLength="186.8" lengthAdjust="spacingAndGlyphs">deaths.</tspan></text>
<text y="2185.4" font-size="53.5" class="b"><tspan x="64.8" textLength="112.1" lengthAdjust="spacingAndGlyphs">Data</tspan> <tspan x="192.7" textLength="174.0" lengthAdjust="spacingAndGlyphs">source:</tspan></text>
<text y="2185.4" font-size="53.5"><tspan x="379.7" textLength="139.7" lengthAdjust="spacingAndGlyphs">WHO</tspan> <tspan x="532.0" textLength="216.3" lengthAdjust="spacingAndGlyphs">Mortality</tspan> <tspan x="763.9" textLength="221.7" lengthAdjust="spacingAndGlyphs">Database</tspan> <tspan x="1000.1" textLength="154.8" lengthAdjust="spacingAndGlyphs">(2022)</tspan> <tspan x="2237.9" textLength="506.7" lengthAdjust="spacingAndGlyphs">OurWorldInData.org/</tspan> <tspan x="2746.0" textLength="382.3" lengthAdjust="spacingAndGlyphs">causes-of-death</tspan> <tspan x="3141.7" textLength="12.2" lengthAdjust="spacingAndGlyphs">|</tspan> <tspan x="3167.9" textLength="72.5" lengthAdjust="spacingAndGlyphs">CC</tspan> <tspan x="3254.2" textLength="66.3" lengthAdjust="spacingAndGlyphs">BY</tspan></text>
<text y="2258.6" font-size="53.5" class="b"><tspan x="64.7" textLength="135.2" lengthAdjust="spacingAndGlyphs">Note:</tspan></text>
<text y="2258.6" font-size="53.5"><tspan x="210.4" textLength="55.1" lengthAdjust="spacingAndGlyphs">To</tspan> <tspan x="280.0" textLength="121.2" lengthAdjust="spacingAndGlyphs">allow</tspan> <tspan x="418.9" textLength="63.0" lengthAdjust="spacingAndGlyphs">for</tspan> <tspan x="498.8" textLength="295.7" lengthAdjust="spacingAndGlyphs">comparisons</tspan> <tspan x="809.5" textLength="207.2" lengthAdjust="spacingAndGlyphs">between</tspan> <tspan x="1031.5" textLength="216.9" lengthAdjust="spacingAndGlyphs">countries</tspan> <tspan x="1264.3" textLength="86.8" lengthAdjust="spacingAndGlyphs">and</tspan> <tspan x="1365.7" textLength="103.2" lengthAdjust="spacingAndGlyphs">over</tspan> <tspan x="1485.4" textLength="118.5" lengthAdjust="spacingAndGlyphs">time,</tspan> <tspan x="1617.1" textLength="83.4" lengthAdjust="spacingAndGlyphs">this</tspan> <tspan x="1715.3" textLength="149.1" lengthAdjust="spacingAndGlyphs">metric</tspan> <tspan x="1879.6" textLength="35.7" lengthAdjust="spacingAndGlyphs">is</tspan> <tspan x="1929.4" textLength="418.0" lengthAdjust="spacingAndGlyphs">age-standardized.</tspan> <tspan x="2358.8" textLength="62.3" lengthAdjust="spacingAndGlyphs">All</tspan> <tspan x="2436.5" textLength="156.8" lengthAdjust="spacingAndGlyphs">deaths</tspan> <tspan x="2605.8" textLength="45.3" lengthAdjust="spacingAndGlyphs">in</tspan> <tspan x="2664.1" textLength="23.7" lengthAdjust="spacingAndGlyphs">a</tspan> <tspan x="2704.6" textLength="177.4" lengthAdjust="spacingAndGlyphs">country</tspan> <tspan x="2898.8" textLength="98.4" lengthAdjust="spacingAndGlyphs">may</tspan> <tspan x="3010.1" textLength="79.1" lengthAdjust="spacingAndGlyphs">not</tspan> <tspan x="3104.5" textLength="112.7" lengthAdjust="spacingAndGlyphs">have</tspan></text>
<text y="2323.3" font-size="53.5"><tspan x="64.7" textLength="116.2" lengthAdjust="spacingAndGlyphs">been</tspan> <tspan x="194.8" textLength="236.2" lengthAdjust="spacingAndGlyphs">registered</tspan> <tspan x="447.3" textLength="101.6" lengthAdjust="spacingAndGlyphs">with</tspan> <tspan x="564.1" textLength="21.9" lengthAdjust="spacingAndGlyphs">a</tspan> <tspan x="604.2" textLength="133.1" lengthAdjust="spacingAndGlyphs">cause</tspan> <tspan x="752.6" textLength="47.8" lengthAdjust="spacingAndGlyphs">of</tspan> <tspan x="814.6" textLength="149.4" lengthAdjust="spacingAndGlyphs">death.</tspan></text>
<text y="1798.8" font-size="53.5" style="fill:#6D3E91"><tspan x="2950.8" textLength="159.4" lengthAdjust="spacingAndGlyphs">United</tspan> <tspan x="3125.1" textLength="144.3" lengthAdjust="spacingAndGlyphs">States</tspan></text>
<text y="1855.8" font-size="53.5" style="fill:#C15065"><tspan x="2951.9" textLength="172.6" lengthAdjust="spacingAndGlyphs">Canada</tspan></text>
<text y="1918.5" font-size="53.5" style="fill:#C05917"><tspan x="2950.8" textLength="159.4" lengthAdjust="spacingAndGlyphs">United</tspan> <tspan x="3123.8" textLength="212.6" lengthAdjust="spacingAndGlyphs">Kingdom</tspan></text>
<text y="1980.9" font-size="53.5" style="fill:#2C8465"><tspan x="2950.2" textLength="158.9" lengthAdjust="spacingAndGlyphs">France</tspan></text>
</svg></body></html>
